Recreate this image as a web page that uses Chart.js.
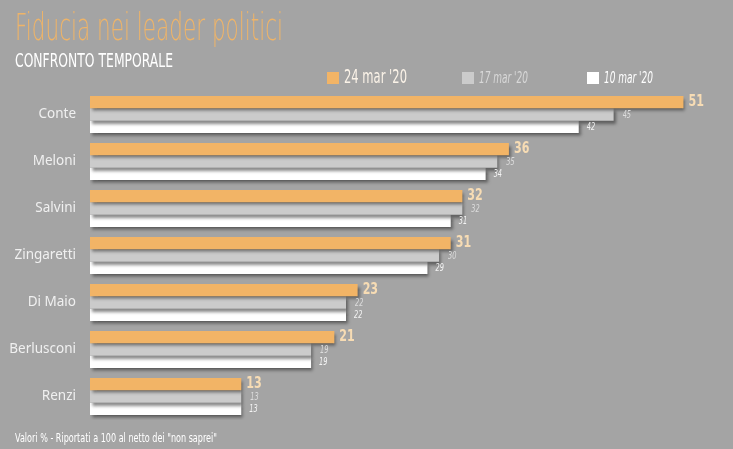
<!DOCTYPE html>
<html>
<head>
<meta charset="utf-8">
<script src="https://cdn.jsdelivr.net/npm/chart.js@4.4.0/dist/chart.umd.min.js"></script>
<style>
    body { margin: 0; background: #a4a4a4; }
    #wrap { width: 733px; height: 449px; }
</style>
</head>
<body>
<div id="wrap"><canvas id="myChart" width="733" height="449"></canvas></div>
<script>
const leaders = ["Conte", "Meloni", "Salvini", "Zingaretti", "Di Maio", "Berlusconi", "Renzi"];
const mar24 = [51, 36, 32, 31, 23, 21, 13];
const mar17 = [45, 35, 32, 30, 22, 19, 13];
const mar10 = [42, 34, 31, 29, 22, 19, 13];
const seriesLabels = ["24 mar '20", "17 mar '20", "10 mar '20"];
const seriesColors = ["#f2b466", "#cbcbcb", "#ffffff"];

const sans = "'DejaVu Sans', sans-serif";

// no condensed font installed: squeeze text horizontally
function fillNarrow(ctx, text, x, y, sx) {
    ctx.save();
    ctx.translate(x, y);
    ctx.scale(sx, 1);
    ctx.fillText(text, 0, 0);
    ctx.restore();
}

// squeeze so that the text takes the given width
function fillToWidth(ctx, text, x, y, w) {
    const sx = w / ctx.measureText(text).width;
    fillNarrow(ctx, text, x, y, sx);
}

// font / colour of the value labels per series
const valueStyles = [
    {font: "bold 15px " + sans, color: "#f7dcb4", dx: 5, dy: 0, sx: 0.74},
    {font: "italic 10px " + sans, color: "#dcdcdc", dx: 9, dy: 1, sx: 0.66},
    {font: "italic 10px " + sans, color: "#f4f4f4", dx: 8, dy: 1, sx: 0.66}
];

const shadowPlugin = {
    id: "shadow",
    beforeDatasetsDraw: function (chart) {
        const ctx = chart.ctx;
        ctx.save();
        ctx.shadowColor = "rgba(40,40,40,0.55)";
        ctx.shadowBlur = 3;
        ctx.shadowOffsetX = 2;
        ctx.shadowOffsetY = 3;
    },
    afterDatasetsDraw: function (chart) {
        chart.ctx.restore();
    }
};

const textPlugin = {
    id: "texts",
    beforeDraw: function (chart) {
        const ctx = chart.ctx;
        ctx.save();
        ctx.fillStyle = "#a4a4a4";
        ctx.fillRect(0, 0, chart.width, chart.height);
        ctx.restore();
    },
    afterDraw: function (chart) {
        const ctx = chart.ctx;
        ctx.save();
        ctx.textBaseline = "alphabetic";
        ctx.textAlign = "left";

        // title + subtitle
        ctx.fillStyle = "#efb468";
        ctx.font = "200 37px " + sans;
        fillToWidth(ctx, "Fiducia nei leader politici", 15, 40, 268);
        ctx.fillStyle = "#ffffff";
        ctx.font = "19px " + sans;
        fillToWidth(ctx, "CONFRONTO TEMPORALE", 15, 67, 158);

        // legend
        const legendX = [327, 462, 587];
        const legendFonts = ["20px " + sans, "italic 15px " + sans, "italic 15px " + sans];
        const legendText = ["#fbf3e8", "#d8d8d8", "#ffffff"];
        const legendW = [63, 49, 49];
        for (let i = 0; i < seriesLabels.length; i++) {
            ctx.fillStyle = seriesColors[i];
            ctx.fillRect(legendX[i], 72, 12, 12);
            ctx.fillStyle = legendText[i];
            ctx.font = legendFonts[i];
            fillToWidth(ctx, seriesLabels[i], legendX[i] + 17, 83, legendW[i]);
        }

        // value labels
        ctx.textBaseline = "middle";
        chart.data.datasets.forEach(function (ds, di) {
            const meta = chart.getDatasetMeta(di);
            const st = valueStyles[di];
            ctx.font = st.font;
            ctx.fillStyle = st.color;
            meta.data.forEach(function (bar, i) {
                fillNarrow(ctx, String(ds.data[i]), bar.x + st.dx, bar.y + st.dy, st.sx);
            });
        });

        // footnote
        ctx.textBaseline = "alphabetic";
        ctx.fillStyle = "#ffffff";
        ctx.font = "13px " + sans;
        fillToWidth(ctx, "Valori % - Riportati a 100 al netto dei \"non saprei\"", 15, 442, 202);
        ctx.restore();
    }
};

new Chart("myChart", {
    type: "bar",
    data: {
        labels: leaders,
        datasets: [
            {label: seriesLabels[0], data: mar24, backgroundColor: seriesColors[0]},
            {label: seriesLabels[1], data: mar17, backgroundColor: seriesColors[1]},
            {label: seriesLabels[2], data: mar10, backgroundColor: seriesColors[2]}
        ]
    },
    options: {
        indexAxis: "y",
        responsive: false,
        animation: false,
        layout: {
            padding: {top: 91, bottom: 29, left: 0, right: 3}
        },
        datasets: {
            bar: {
                categoryPercentage: 0.79,
                barPercentage: 1.0,
                borderWidth: 0
            }
        },
        scales: {
            x: {
                display: false,
                min: 0,
                max: 55
            },
            y: {
                grid: {display: false, drawTicks: false},
                border: {display: false},
                ticks: {
                    color: "#f0f0f0",
                    padding: 14,
                    font: {family: "'Noto Sans', sans-serif", size: 13.5}
                },
                afterFit: function (scale) {
                    scale.width = 90;
                }
            }
        },
        plugins: {
            legend: {display: false},
            tooltip: {enabled: false}
        }
    },
    plugins: [shadowPlugin, textPlugin]
});
</script>
</body>
</html>
